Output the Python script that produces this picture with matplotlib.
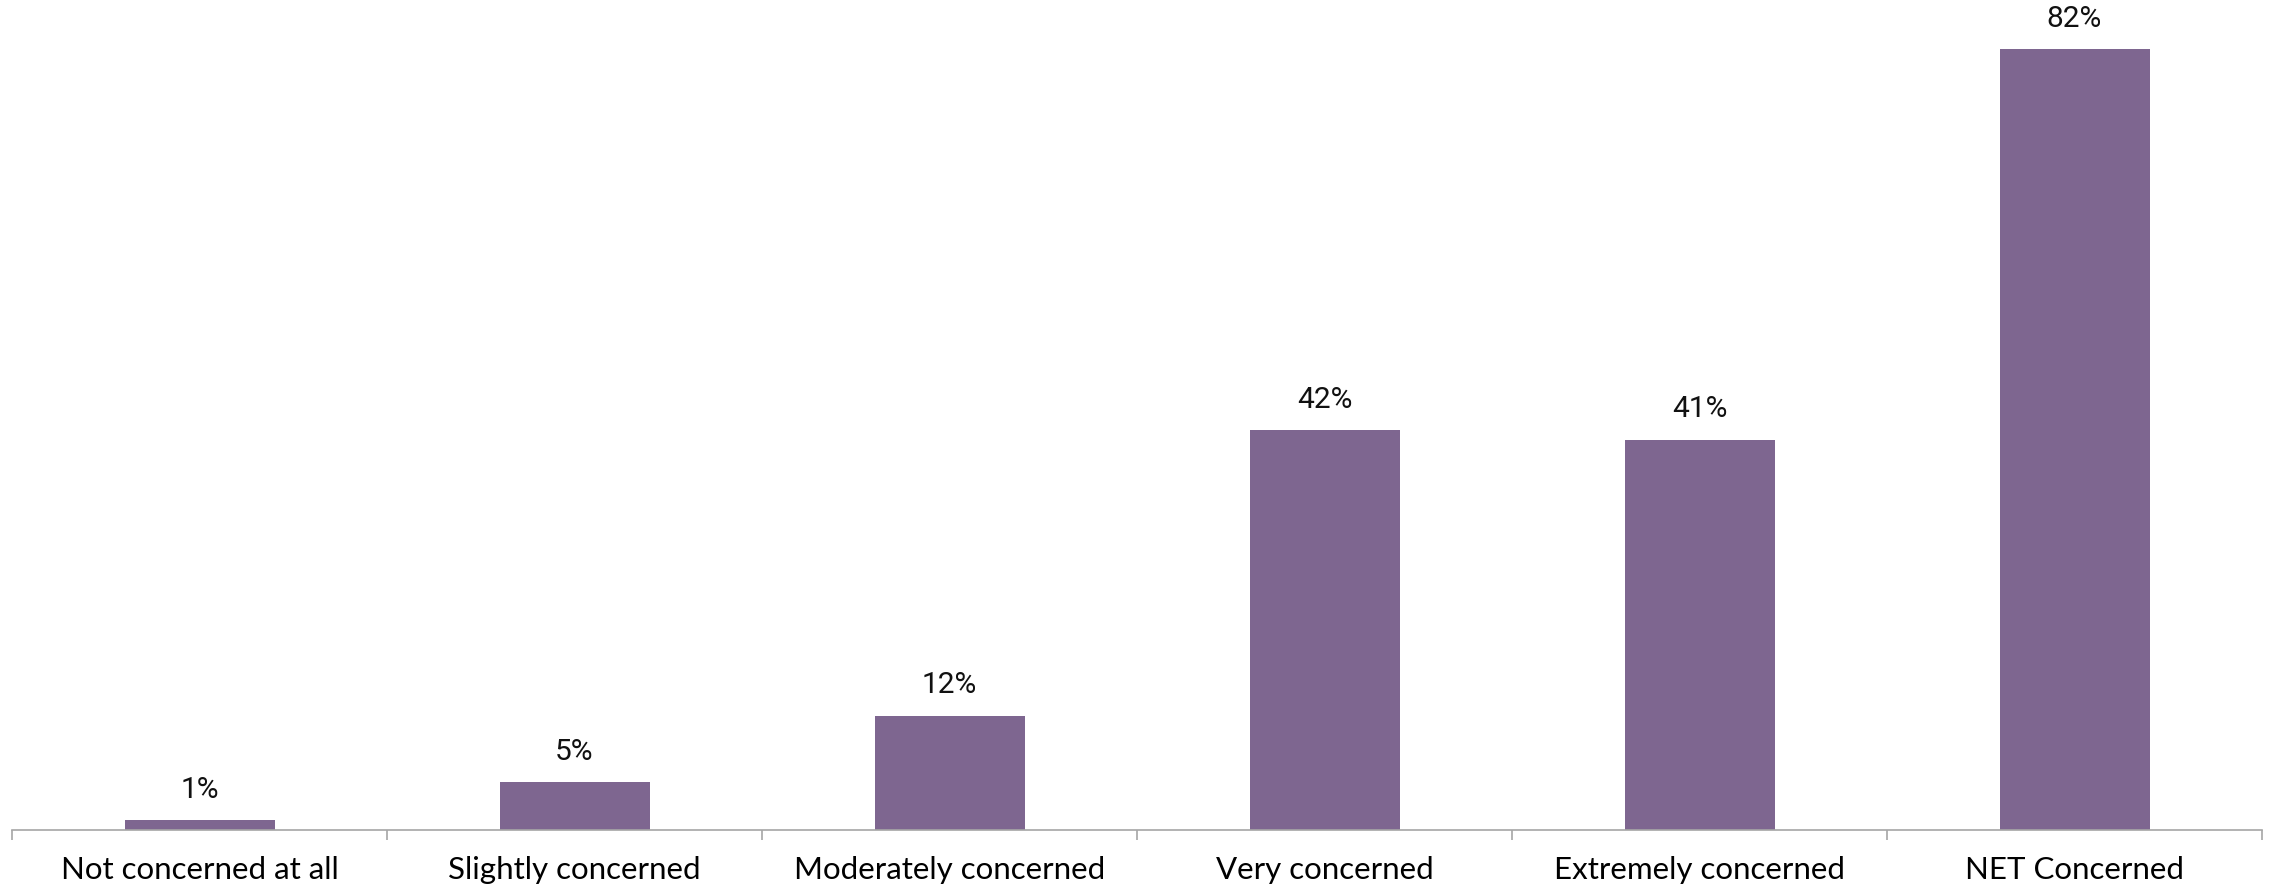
import matplotlib.pyplot as plt

categories = ["Not concerned at all", "Slightly concerned", "Moderately concerned",
              "Very concerned", "Extremely concerned", "NET Concerned"]
values = [1, 5, 12, 42, 41, 82]
labels = ["1%", "5%", "12%", "42%", "41%", "82%"]

fig = plt.figure(figsize=(22.7, 8.85), dpi=100)
ax = fig.add_axes([12/2270, 55/885, 2250/2270, 830/885])

x = list(range(len(categories)))
bars = ax.bar(x, values, width=0.4, color="#7E6690")

for b, lab in zip(bars, labels):
    ax.annotate(lab, (b.get_x() + b.get_width()/2, b.get_height()),
                xytext=(0, 12), textcoords="offset points",
                ha="center", va="bottom", fontsize=21.5, family="Roboto", color="#111111")

ax.set_xlim(-0.5, len(categories) - 0.5)
ax.set_ylim(0, 87.2)
ax.set_xticks(x)
ax.set_xticklabels(categories, fontsize=22.5, family="Lato")
ax.tick_params(axis="x", which="major", length=0, pad=19)
ax.set_xticks([i - 0.5 for i in range(len(categories) + 1)], minor=True)
ax.tick_params(axis="x", which="minor", length=7, color="#A6A6A6", width=1.2)
ax.set_yticks([])
for s in ["top", "right", "left"]:
    ax.spines[s].set_visible(False)
ax.spines["bottom"].set_color("#A6A6A6")
ax.spines["bottom"].set_linewidth(1.2)

fig.savefig("out.png", dpi=100)
